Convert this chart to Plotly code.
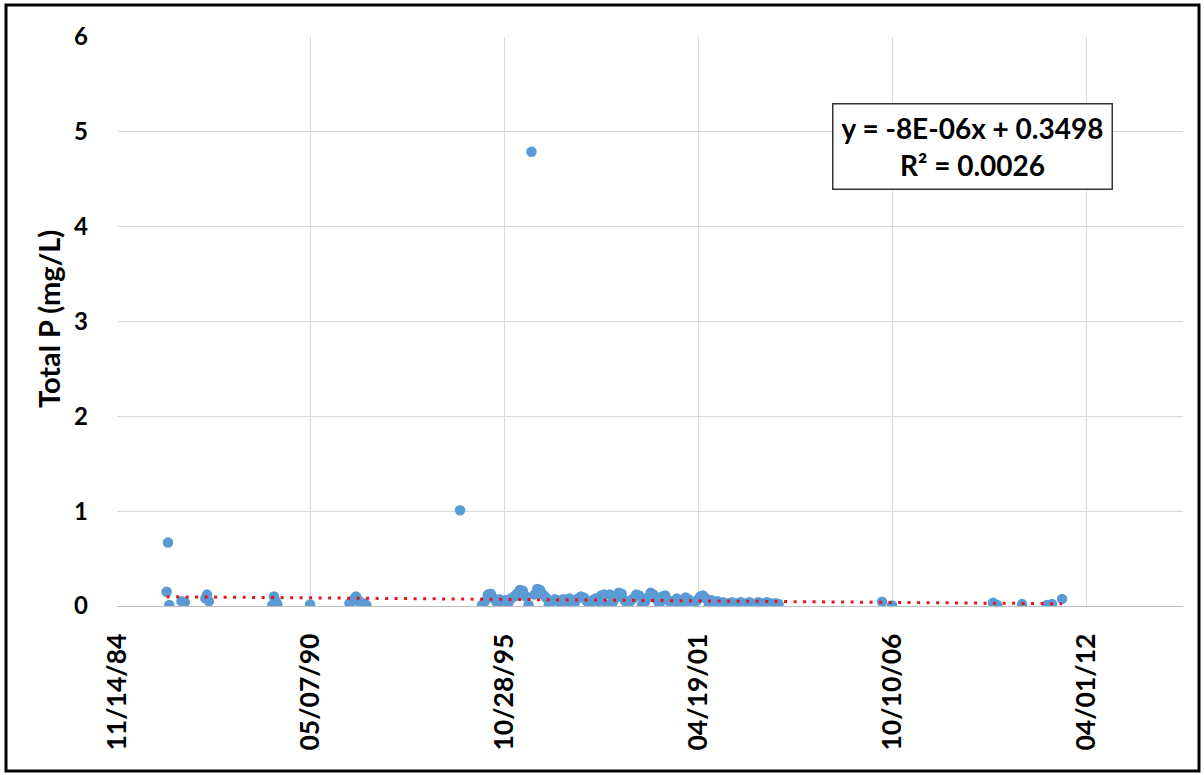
import pandas as pd
import plotly.graph_objects as go

# Sample dates and total phosphorus concentrations (mg/L)
early_dates = [
    "1986-04-10", "1986-04-24", "1986-05-08",
    "1986-09-10", "1986-10-15",
    "1987-05-15", "1987-06-01", "1987-06-20",
    "1989-04-05", "1989-04-22", "1989-05-10", "1989-05-25",
    "1990-04-29",
    "1991-06-10", "1991-07-05", "1991-08-01", "1991-08-16",
    "1991-09-10", "1991-10-05", "1991-11-01", "1991-12-01",
    "1994-07-25",
]
early_tp = [
    0.15, 0.67, 0.01,
    0.05, 0.04,
    0.08, 0.12, 0.05,
    0.01, 0.10, 0.05, 0.02,
    0.015,
    0.03, 0.05, 0.08, 0.10,
    0.06, 0.02, 0.03, 0.01,
    1.01,
]

# Monthly monitoring, March 1995 - September 2003
monthly_start = "1995-03-09"
monthly_tp = [
    0.01, 0.05, 0.12, 0.13, 0.08, 0.04, 0.07, 0.01, 0.06, 0.03,
    0.08, 0.10, 0.13, 0.17, 0.16, 0.10, 0.01, 4.79, 0.12, 0.18,
    0.17, 0.12, 0.09, 0.01, 0.05, 0.07, 0.06, 0.03, 0.07, 0.01,
    0.08, 0.06, 0.04, 0.08, 0.10, 0.09, 0.05, 0.01, 0.06, 0.08,
    0.05, 0.11, 0.12, 0.01, 0.12, 0.04, 0.09, 0.14, 0.13, 0.06,
    0.01, 0.05, 0.08, 0.12, 0.11, 0.01, 0.04, 0.09, 0.14, 0.12,
    0.07, 0.01, 0.10, 0.11, 0.06, 0.03, 0.01, 0.08, 0.06, 0.04,
    0.09, 0.07, 0.01, 0.03, 0.06, 0.10, 0.11, 0.08, 0.01, 0.06,
    0.04, 0.05, 0.01, 0.04, 0.02, 0.03, 0.04, 0.01, 0.03, 0.04,
    0.02, 0.03, 0.04, 0.01, 0.02, 0.04, 0.03, 0.01, 0.04, 0.03,
    0.02, 0.03, 0.02,
]

late_dates = [
    "2006-06-27", "2006-10-08",
    "2009-08-15", "2009-09-25",
    "2010-06-10",
    "2011-02-23", "2011-04-16", "2011-07-28",
]
late_tp = [
    0.045, 0.005,
    0.035, 0.01,
    0.02,
    0.01, 0.02, 0.075,
]

# Linear trend reported for the series (x as spreadsheet date serial)
trend_slope = -8e-06
trend_intercept = 0.3498
trend_r2 = 0.0026

tick_dates = ["1984-11-14", "1990-05-07", "1995-10-28",
              "2001-04-19", "2006-10-10", "2012-04-01"]
tick_labels = ["11/14/84", "05/07/90", "10/28/95",
               "04/19/01", "10/10/06", "04/01/12"]
x_range = ["1984-11-14", "2014-12-27"]
y_ticks = [0, 1, 2, 3, 4, 5, 6]

monthly_dates = list(pd.date_range(monthly_start, periods=len(monthly_tp),
                                   freq="30D").strftime("%Y-%m-%d"))

dates = pd.to_datetime(early_dates + monthly_dates + late_dates)
tp = early_tp + monthly_tp + late_tp

epoch = pd.Timestamp("1899-12-30")
trend_x = [dates.min(), dates.max()]
trend_y = [trend_slope * (d - epoch).days + trend_intercept for d in trend_x]

FONT = "Lato"

fig = go.Figure()
fig.add_trace(go.Scatter(
    x=dates, y=tp, mode="markers",
    marker=dict(color="#5B9BD5", size=10.5, line=dict(width=0)),
    showlegend=False,
))
fig.add_trace(go.Scatter(
    x=trend_x, y=trend_y, mode="lines",
    line=dict(color="#E4161B", width=3, dash="3px,6.5px"),
    showlegend=False,
))

fig.update_layout(
    width=1204, height=775,
    margin=dict(l=117, r=21, t=37, b=169),
    paper_bgcolor="white", plot_bgcolor="white",
    font=dict(family=FONT, color="black"),
    xaxis=dict(
        type="date", range=x_range,
        tickvals=tick_dates, ticktext=tick_labels,
        tickangle=-90, tickfont=dict(family=FONT, size=26.5, color="black", weight="bold"),
        showgrid=True, gridcolor="#D9D9D9", gridwidth=1,
        showline=True, linecolor="#BFBFBF", linewidth=1,
        ticks="", ticklabelstandoff=16, zeroline=False,
    ),
    yaxis=dict(
        range=[0, 6], tickvals=y_ticks,
        tickfont=dict(family=FONT, size=24, color="black", weight="bold"),
        showgrid=True, gridcolor="#D9D9D9", gridwidth=1,
        showline=False, ticks="", ticklabelstandoff=28, zeroline=False,
    ),
)

fig.add_annotation(
    xref="paper", yref="paper",
    x=-(117 - 48) / 1066, y=(606 - 319) / 569, xanchor="center", yanchor="middle",
    text="Total P (mg/L)", textangle=-90, showarrow=False,
    font=dict(family=FONT, size=29, color="black", weight="bold"),
)

fig.add_annotation(
    xref="paper", yref="paper",
    x=(972 - 117) / 1066, y=(606 - 146.5) / 569,
    xanchor="center", yanchor="middle",
    text=f"y = {trend_slope:.0E}x + {trend_intercept}"
         + f"<br>R² = {trend_r2}",
    showarrow=False, align="center",
    width=270, height=76,
    font=dict(family=FONT, size=28, color="black", weight="bold"),
    bgcolor="white", bordercolor="#333333", borderwidth=1.5,
    borderpad=4,
)

# Outer frame around the whole chart
fig.add_shape(
    type="rect", xref="paper", yref="paper",
    x0=(6 - 117) / 1066, x1=(1199 - 117) / 1066,
    y0=(606 - 771) / 569, y1=(606 - 5) / 569,
    line=dict(color="black", width=3), fillcolor="rgba(0,0,0,0)",
    layer="above",
)

fig.write_html("out.html")
